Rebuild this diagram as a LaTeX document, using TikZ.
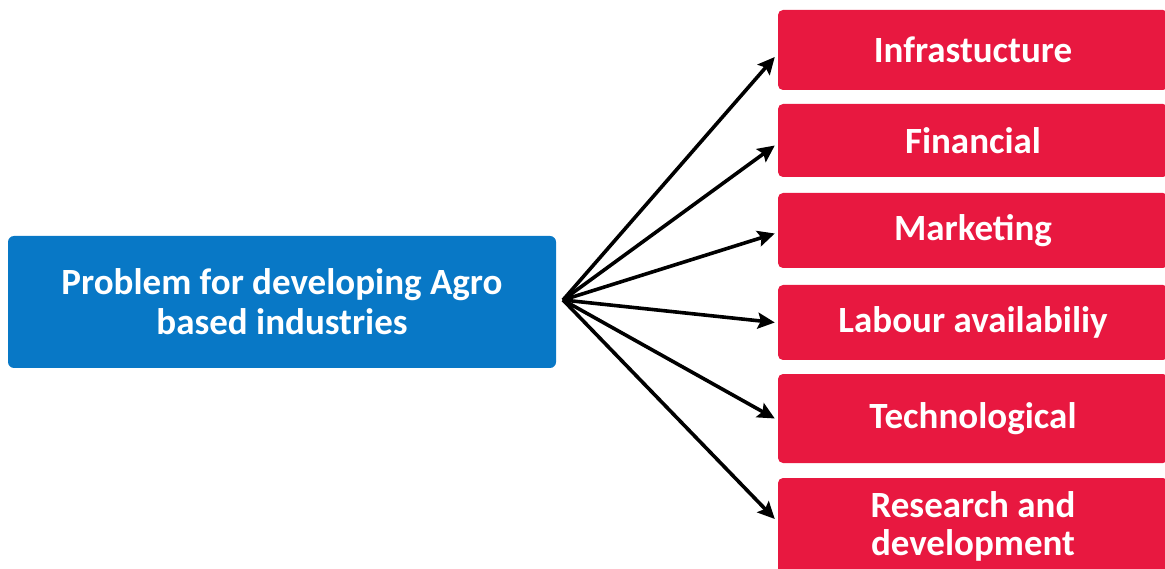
\documentclass[tikz,border=0pt]{standalone}
\usepackage{fontspec}
\setmainfont{Carlito}
\usetikzlibrary{arrows.meta}
\definecolor{probblue}{RGB}{8,120,198}
\definecolor{cardred}{RGB}{232,24,64}
\tikzset{
  probbox/.style={fill=probblue, rounded corners=6pt, text=white, font=\fontsize{37}{40}\selectfont\bfseries, align=center, inner sep=0pt},
  redbox/.style={fill=cardred, rounded corners=5pt, text=white, font=\fontsize{37}{40}\selectfont\bfseries, align=center, inner sep=0pt, minimum width=390pt},
  arr/.style={line width=3.6pt, -{Stealth[length=17pt,width=16pt,inset=3pt]}}
}
\begin{document}
\begin{tikzpicture}[x=1pt,y=-1pt]
\useasboundingbox (0,0) rectangle (1165,569);
\node[probbox, minimum width=548pt, minimum height=132pt] (prob) at (282,302) {Problem for developing Agro\\based industries};
\node[redbox, minimum height=80pt] (r1) at (973,50) {Infrastucture};
\node[redbox, minimum height=73pt] (r2) at (973,140.5) {Financial};
\node[redbox, minimum height=75pt] (r3) at (973,230.5) {Marketing};
\node[redbox, minimum height=75pt] (r4) at (973,322.5) {Labour availabiliy};
\node[redbox, minimum height=89pt] (r5) at (973,418.5) {Technological};
\node[redbox, minimum height=96pt] (r6) at (973,526) {Research and\\[-2pt]development};
\coordinate (hub) at (563,300);
\draw[arr] (hub) -- ([xshift=-3pt,yshift=-7pt]r1.west);
\draw[arr] (hub) -- ([xshift=-3pt,yshift=-5pt]r2.west);
\draw[arr] (hub) -- ([xshift=-3pt,yshift=-3pt]r3.west);
\draw[arr] (hub) -- ([xshift=-3pt]r4.west);
\draw[arr] (hub) -- ([xshift=-3pt]r5.west);
\draw[arr] (hub) -- ([xshift=-3pt,yshift=7pt]r6.west);
\end{tikzpicture}
\end{document}
